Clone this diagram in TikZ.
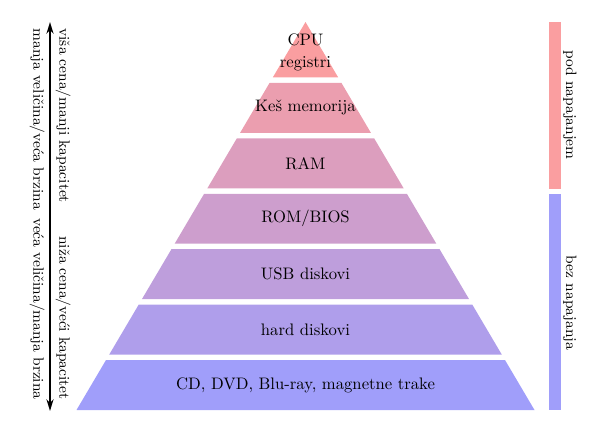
\documentclass[tikz,border=0pt]{standalone}
\usepackage{fontspec}
\usetikzlibrary{calc,arrows.meta}
\definecolor{toppink}{RGB}{250,158,160}
\definecolor{botblue}{RGB}{160,158,250}
\begin{document}
\begin{tikzpicture}[x=0.6pt,y=-0.6pt,
  lbl/.style={font=\normalsize, text=black, align=center, inner sep=1pt},
  side/.style={font=\small, rotate=-90, inner sep=2.5pt, text=black},
  barlbl/.style={font=\small, rotate=-90, inner sep=1pt, text=black},
  tip/.style={line width=1.2pt, {Stealth[length=7pt,width=4.2pt]}-{Stealth[length=7pt,width=4.2pt]}}]
\useasboundingbox (0,0) rectangle (594,440);
\coordinate (A) at (305.5,22);
\coordinate (BL) at (76.5,410);
\coordinate (BR) at (534.5,410);
\foreach \i/\txt in {0/{CPU\\[1pt]registri},1/{Keš memorija},2/{RAM},3/{ROM/BIOS},4/{USB diskovi},5/{hard diskovi},6/{CD, DVD, Blu-ray, magnetne trake}}{
  \pgfmathsetmacro\ta{\i==0 ? 0 : (55.43*\i+5.5)/388}
  \pgfmathsetmacro\tb{min(1,55.43*(\i+1)/388)}
  \pgfmathtruncatemacro\p{round(100*\i/6)}
  \pgfmathsetmacro\yc{\i==0 ? 52.5 : 22+388*(\ta+\tb)/2}
  \fill[botblue!\p!toppink] ($(A)!\ta!(BL)$) -- ($(A)!\ta!(BR)$) -- ($(A)!\tb!(BR)$) -- ($(A)!\tb!(BL)$) -- cycle;
  \node[lbl] (L\i) at (305.5,\yc) {\txt};
}
% right bars
\fill[toppink] (549,22) rectangle (561,188.5);
\fill[botblue] (549,194) rectangle (561,410);
\node[barlbl, anchor=south] (pod) at (561,105) {pod napajanjem};
\node[barlbl, anchor=south] (bez) at (561,303) {bez napajanja};
% left arrow
\coordinate (atop) at (50,22);
\coordinate (abot) at (50,411);
\draw[tip] (atop) -- (abot);
\node[side, anchor=south west] (r1) at (51,24) {viša cena/manji kapacitet};
\node[side, anchor=south east] (r2) at (51,404) {niža cena/veći kapacitet};
\node[side, anchor=north west] (l1) at (49,24) {manja veličina/veća brzina};
\node[side, anchor=north east] (l2) at (49,404) {veća veličina/manja brzina};
\end{tikzpicture}
\end{document}
